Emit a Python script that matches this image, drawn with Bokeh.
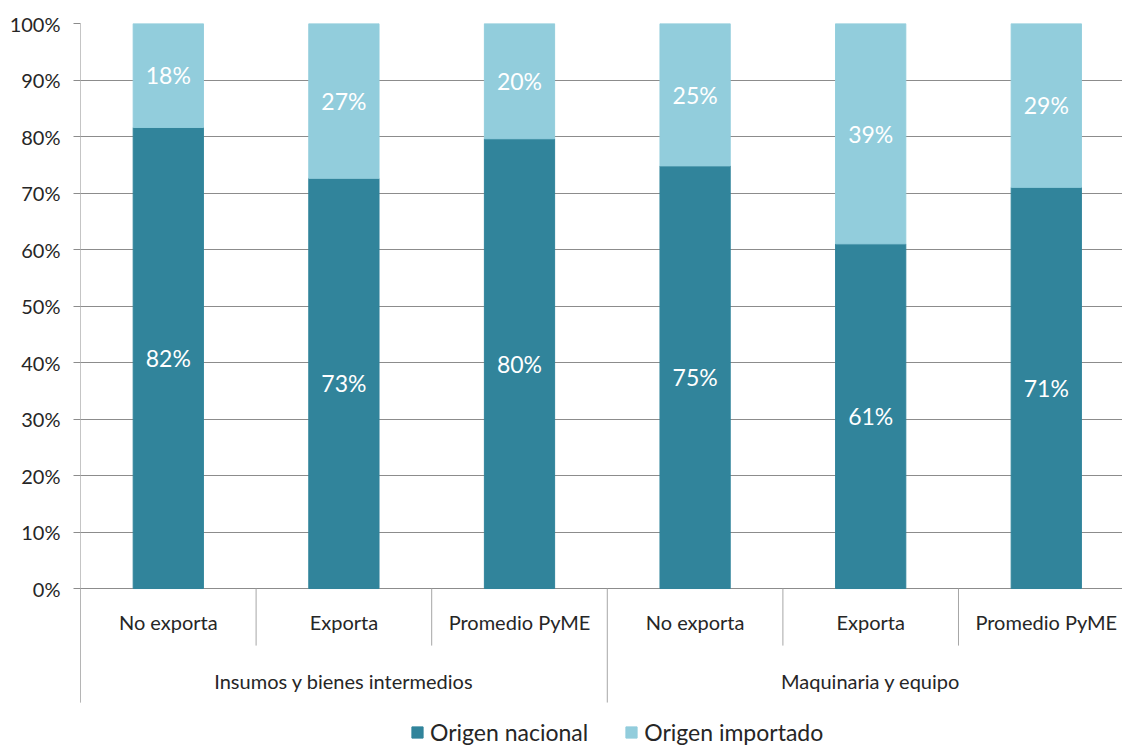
from bokeh.plotting import figure
from bokeh.models import Range1d, FixedTicker, ColumnDataSource
from bokeh.core.properties import value
from bokeh.embed import file_html
from bokeh.resources import INLINE

# ---- data ----
categories = ["No exporta", "Exporta", "Promedio PyME", "No exporta", "Exporta", "Promedio PyME"]
groups = ["Insumos y bienes intermedios", "Maquinaria y equipo"]
group_size = [3, 3]
series_names = ["Origen nacional", "Origen importado"]
nacional = [81.6, 72.6, 79.6, 74.8, 61.0, 71.0]
importado = [18.4, 27.4, 20.4, 25.2, 39.0, 29.0]
y_ticks = [0, 10, 20, 30, 40, 50, 60, 70, 80, 90, 100]
y_tick_labels = ["0%", "10%", "20%", "30%", "40%", "50%", "60%", "70%", "80%", "90%", "100%"]

# ---- style ----
DARK = "#31849B"
LIGHT = "#92CDDC"
GRID = "#8c8c8c"
SEP = "#a6a6a6"
TXT = "#262626"
FONT = "Lato"

xs = [i + 0.5 for i in range(len(categories))]
src = ColumnDataSource(dict(x=xs, nacional=nacional, importado=importado))

p = figure(width=1122, height=746, output_backend="svg", toolbar_location=None,
           x_range=Range1d(0, 5.934), y_range=Range1d(-27.96, 100),
           x_axis_location=None, min_border_top=23, min_border_left=80,
           min_border_right=0, min_border_bottom=0)
p.outline_line_color = None
p.xgrid.visible = False
p.ygrid.ticker = FixedTicker(ticks=y_ticks)
p.ygrid.grid_line_color = GRID
p.ygrid.grid_line_width = 1

ax = p.yaxis[0]
ax.ticker = FixedTicker(ticks=y_ticks)
ax.major_label_overrides = {t: l for t, l in zip(y_ticks, y_tick_labels)}
ax.axis_line_color = None
ax.major_tick_out = 7
ax.major_tick_in = 0
ax.major_tick_line_color = GRID
ax.minor_tick_line_color = None
ax.major_label_standoff = 13
ax.major_label_text_font = FONT
ax.major_label_text_font_size = "20px"
ax.major_label_text_color = TXT

# y axis line down through the category area
p.segment(x0=[0], y0=[-20.18], x1=[0], y1=[100], line_color=GRID, line_width=1)

p.vbar_stack(["nacional", "importado"], x="x", width=0.4, source=src,
             color=[DARK, LIGHT], legend_label=series_names)

# value labels
p.text(x=xs, y=[n / 2 for n in nacional], text=[f"{round(n)}%" for n in nacional],
       text_color="white", text_align="center", text_baseline="middle",
       text_font=value(FONT), text_font_size="23px")
p.text(x=xs, y=[n + m / 2 for n, m in zip(nacional, importado)],
       text=[f"{round(m)}%" for m in importado],
       text_color="white", text_align="center", text_baseline="middle",
       text_font=value(FONT), text_font_size="23px")

# category labels
p.text(x=xs, y=[-6.0] * len(xs), text=categories, text_color=TXT, text_align="center",
       text_baseline="middle", text_font=value(FONT), text_font_size="20px")
gx = []
start = 0
for n in group_size:
    gx.append(start + n / 2)
    start += n
p.text(x=gx, y=[-16.3] * len(gx), text=groups, text_color=TXT, text_align="center",
       text_baseline="middle", text_font=value(FONT), text_font_size="20px")

# separators
bounds = []
start = 0
for n in group_size:
    bounds.append(start)
    start += n
bounds.append(start)
inner = [i for i in range(1, len(categories)) if i not in bounds]
p.segment(x0=inner, y0=[0] * len(inner), x1=inner, y1=[-10.1] * len(inner),
          line_color=SEP, line_width=1)
p.segment(x0=bounds, y0=[0] * len(bounds), x1=bounds, y1=[-20.18] * len(bounds),
          line_color=SEP, line_width=1)

lg = p.legend[0]
lg.orientation = "horizontal"
lg.location = (330, 0)
lg.border_line_color = None
lg.background_fill_alpha = 0
lg.label_text_font = FONT
lg.label_text_font_size = "23px"
lg.label_text_color = TXT
lg.glyph_width = 14
lg.glyph_height = 14
lg.label_standoff = 6
lg.spacing = 36
lg.padding = 0
lg.margin = 0

open("out.html", "w").write(file_html(p, INLINE))
